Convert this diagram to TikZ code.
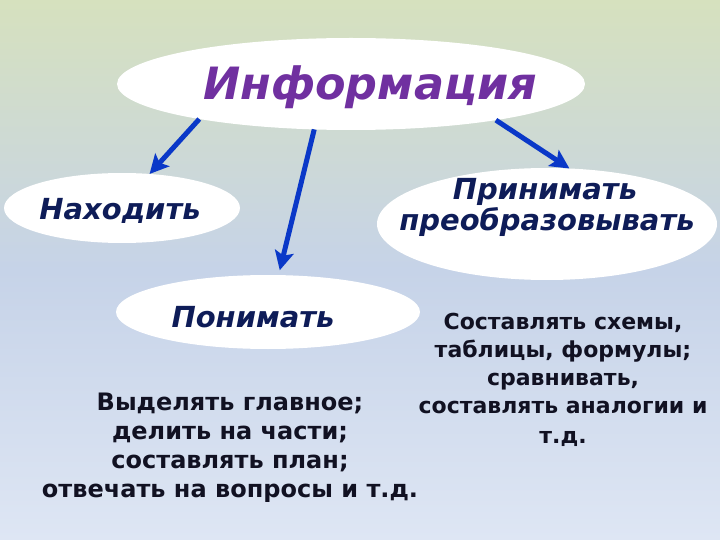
\documentclass[tikz,border=0pt]{standalone}
\usepackage{fontspec}
\setmainfont{DejaVu Sans}
\usetikzlibrary{shapes.geometric,arrows.meta}
\definecolor{bgtop}{HTML}{D6E1BE}
\definecolor{bgmid}{HTML}{C6D3E8}
\definecolor{bgbot}{HTML}{DEE6F4}
\definecolor{arrowblue}{HTML}{0A38C8}
\definecolor{navy}{HTML}{0E1C58}
\definecolor{purp}{HTML}{7030A0}
\definecolor{ink}{HTML}{111122}
\tikzset{
  oval/.style={ellipse, fill=white, draw=none, inner sep=0pt, outer sep=0pt},
  ovaltext/.style={anchor=base, text=navy, inner sep=0pt, font=\fontsize{29}{36}\selectfont\bfseries\itshape},
  titletext/.style={anchor=base, text=purp, inner sep=0pt, font=\fontsize{44.5}{56}\selectfont\bfseries\itshape},
  bodytext/.style={anchor=base, text=ink, inner sep=0pt, align=center, font=\fontsize{24}{29}\selectfont\bfseries},
  arr/.style={draw=arrowblue, line width=5pt, -{Stealth[length=19pt,width=19pt,inset=4pt]}}
}
\begin{document}
\begin{tikzpicture}[x=1pt,y=-1pt]
\useasboundingbox (0,0) rectangle (720,540);
\shade[top color=bgtop, bottom color=bgbot, middle color=bgmid] (0,0) rectangle (720,540);
\node[oval, minimum width=468pt, minimum height=92pt] (info) at (351,84) {};
\node[oval, minimum width=236pt, minimum height=70pt] (find) at (122,208) {};
\node[oval, minimum width=304pt, minimum height=74pt] (under) at (268,312) {};
\node[oval, minimum width=340pt, minimum height=112pt] (accept) at (547,224) {};
\node[titletext] (infoT) at (370,100) {Информация};
\node[ovaltext] (findT) at (120,220) {Находить};
\node[ovaltext] (underT) at (253,327) {Понимать};
\node[ovaltext] (acceptT1) at (545,200) {Принимать};
\node[ovaltext] (acceptT2) at (547,230) {преобразовывать};
\node[bodytext] (left) at (230,497) {Выделять главное;\\делить на части;\\составлять план;\\отвечать на вопросы и т.д.};
\node[bodytext, font=\fontsize{22}{28}\selectfont\bfseries] (right) at (563,443) {Составлять схемы,\\таблицы, формулы;\\сравнивать,\\составлять аналогии и\\[2pt]т.д.};
\draw[arr] (info.193) -- (find.51);
\draw[arr, shorten >=5pt] (info.231) -- (under.74);
\draw[arr] (info.-14) -- (accept.68);
\end{tikzpicture}
\end{document}
